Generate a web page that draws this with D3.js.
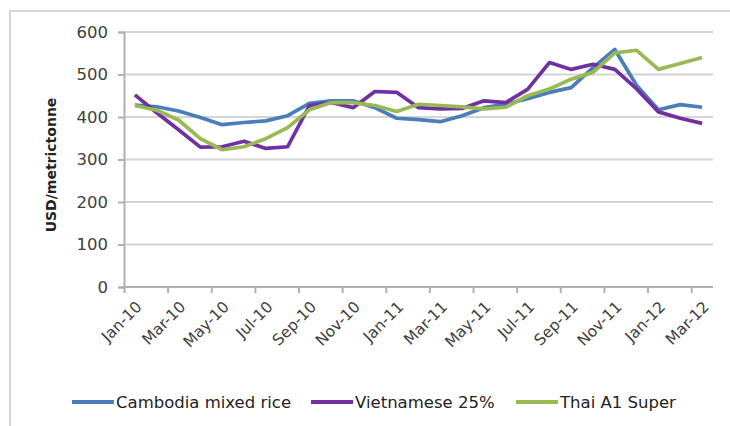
<!DOCTYPE html>
<html><head><meta charset="utf-8">
<script src="https://cdn.jsdelivr.net/npm/d3@7/dist/d3.min.js"></script>
<style>
html,body{margin:0;padding:0;background:#fff;}
svg{display:block;font-family:"DejaVu Sans",sans-serif;}
</style></head>
<body><svg id="c" width="730" height="426"></svg>
<script>
const months = ["Jan-10","Feb-10","Mar-10","Apr-10","May-10","Jun-10","Jul-10","Aug-10","Sep-10","Oct-10","Nov-10","Dec-10",
"Jan-11","Feb-11","Mar-11","Apr-11","May-11","Jun-11","Jul-11","Aug-11","Sep-11","Oct-11","Nov-11","Dec-11",
"Jan-12","Feb-12","Mar-12"];
const cambodia = [428,424,414,399,382,387,391,403,432,438,438,422,397,394,389,403,422,430,443,458,469,516,559,474,417,429,423];
const vietnamese = [452,410,370,329,330,343,326,330,427,434,422,460,458,422,419,420,438,434,465,528,512,524,512,466,412,397,385];
const thai = [427,416,393,349,323,330,349,375,417,434,434,427,413,430,427,424,419,423,450,466,489,505,551,557,512,526,540];
const yTicks = [0,100,200,300,400,500,600];
const seriesNames = ["Cambodia mixed rice","Vietnamese 25%","Thai A1 Super"];
const seriesColors = ["#4A7EBB","#7030A0","#98B954"];
const yTitle = "USD/metrictonne";

const svg = d3.select("#c");
const L=124, R=713, T=32, B=287;

svg.append("rect").attr("x",10).attr("y",11).attr("width",740).attr("height",440)
  .attr("fill","none").attr("stroke","#c8c8c8").attr("stroke-width",1.5);

const x = d3.scaleBand().domain(months).range([L,R]);
const xi = d3.scaleLinear().domain([0,months.length]).range([L,R]);
const y = d3.scaleLinear().domain([0,600]).range([B,T]);

// gridlines
svg.append("g").selectAll("line").data(yTicks.filter(d=>d>0)).join("line")
  .attr("x1",L).attr("x2",R).attr("y1",d=>y(d)).attr("y2",d=>y(d))
  .attr("stroke","#d4d4d4").attr("stroke-width",2);

// y axis
const ya = svg.append("g").attr("transform",`translate(${L},0)`)
  .call(d3.axisLeft(y).tickValues(yTicks).tickSize(6).tickPadding(10));
ya.select(".domain").attr("stroke","#b0b0b0").attr("stroke-width",2);
ya.selectAll(".tick line").attr("stroke","#b0b0b0").attr("stroke-width",2);
ya.selectAll(".tick text").attr("font-size",16.5).attr("fill","#404040").attr("font-family","DejaVu Sans");

// x axis
const xa = svg.append("g").attr("transform",`translate(0,${B})`)
  .call(d3.axisBottom(xi).tickValues(d3.range(0,months.length,2)).tickSize(6).tickFormat(""));
xa.select(".domain").attr("stroke","#b0b0b0").attr("stroke-width",2).attr("d",`M${L},0H${R}`);
xa.selectAll(".tick line").attr("stroke","#b0b0b0").attr("stroke-width",2);

svg.append("g").selectAll("text").data(months.filter((d,i)=>i%2===0)).join("text")
  .attr("transform",d=>`translate(${x(d)+x.bandwidth()/2+4},${B+17}) rotate(-45)`)
  .attr("text-anchor","end").attr("dy","0.35em")
  .attr("font-size",15.5).attr("fill","#404040").text(d=>d);

// y title
svg.append("text").attr("transform",`translate(56,165) rotate(-90)`)
  .attr("text-anchor","middle").attr("font-size",14).attr("font-weight","bold")
  .attr("fill","#222").text(yTitle);

// lines
const line = d3.line().x((d,i)=>x(months[i])+x.bandwidth()/2).y(d=>y(d));
[cambodia, vietnamese, thai].forEach((s,k)=>{
  svg.append("path").datum(s).attr("d",line).attr("fill","none")
    .attr("stroke",seriesColors[k]).attr("stroke-width",3.7).attr("stroke-linejoin","round");
});

// legend
const legX = [72,311,516];
seriesNames.forEach((n,k)=>{
  svg.append("line").attr("x1",legX[k]).attr("x2",legX[k]+42).attr("y1",402).attr("y2",402)
    .attr("stroke",seriesColors[k]).attr("stroke-width",4);
  svg.append("text").attr("x",legX[k]+44).attr("y",402).attr("dy","0.35em")
    .attr("font-size",16.5).attr("fill","#222").text(n);
});
</script></body></html>
